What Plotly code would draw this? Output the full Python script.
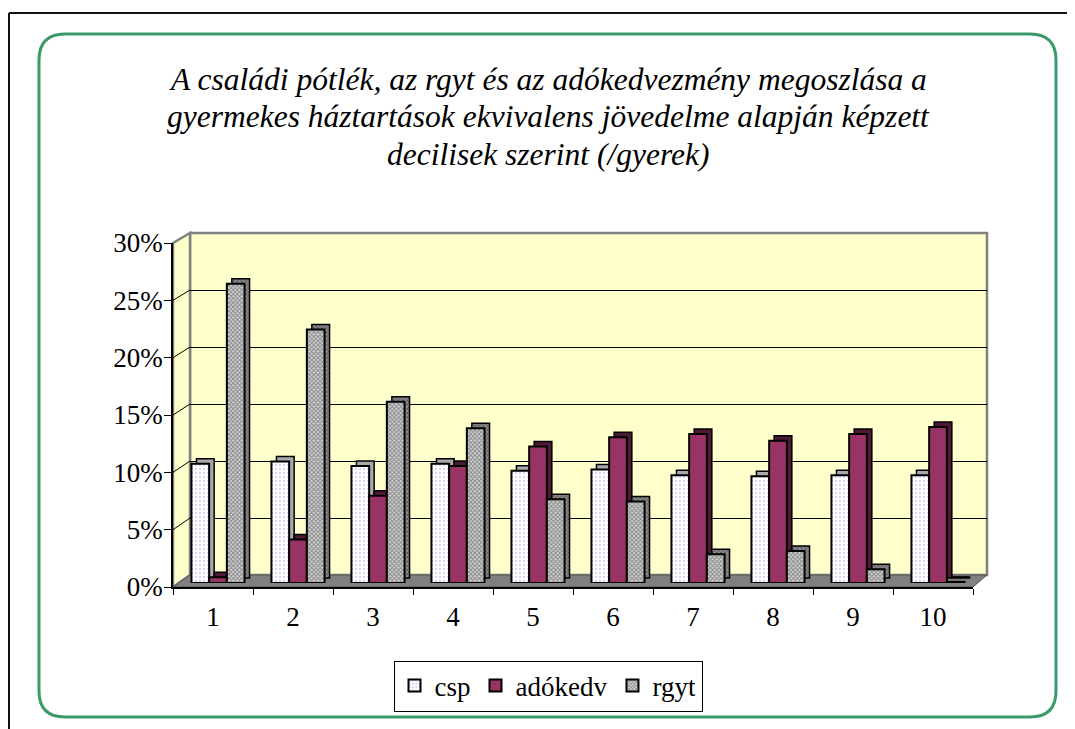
import plotly.graph_objects as go

# ---------------- data ----------------
categories = ["1", "2", "3", "4", "5", "6", "7", "8", "9", "10"]
csp = [10.4, 10.6, 10.2, 10.4, 9.8, 9.9, 9.4, 9.3, 9.4, 9.4]
adokedv = [0.5, 3.8, 7.6, 10.2, 11.9, 12.7, 13.0, 12.4, 13.0, 13.6]
rgyt = [26.1, 22.1, 15.8, 13.5, 7.3, 7.1, 2.5, 2.8, 1.2, 0.1]
series_names = ["csp", "adókedv", "rgyt"]
y_tick_values = [0, 5, 10, 15, 20, 25, 30]
y_tick_labels = ["0%", "5%", "10%", "15%", "20%", "25%", "30%"]
title_lines = [
    "A családi pótlék, az rgyt és az adókedvezmény megoszlása a",
    "gyermekes háztartások ekvivalens jövedelme alapján képzett",
    "decilisek szerint (/gyerek)",
]

# ---------------- geometry helpers ----------------
# the page body has an 8px margin, so the figure starts at (8, 8) on screen
OX, OY = 8, 8
W, H = 1067, 721


def px(x):
    return (x - OX) / W


def py(y):
    return 1 - (y - OY) / H


FONT = "Liberation Serif"
YELLOW = "#FFFFCC"
GRAY = "#808080"
MAROON = "#993366"

# front axes box (screen px)
FX0, FX1, FY0, FY1 = 173, 973, 587, 243
# back wall box
BX0, BX1, BY0, BY1 = 190, 987, 575, 233
# bars box
CX0, CX1, CY0, CY1 = 178, 978, 583, 239

y_max = y_tick_values[-1]
n = len(categories)
unit_px = (CX1 - CX0) / n
ypx_per_unit = (CY0 - CY1) / y_max
BW = 17.7 / unit_px
DX = 5 / unit_px
DY = 5 / ypx_per_unit

bar_x = [i + 1 for i in range(n)]
values = [csp, adokedv, rgyt]
offsets = [-1.5 * BW, -0.5 * BW, 0.5 * BW]

front_markers = [
    dict(color="white", line=dict(color="black", width=2),
         pattern=dict(shape=".", fgcolor="#A8A8F0", bgcolor="white", size=4, solidity=0.25)),
    dict(color=MAROON, line=dict(color="black", width=2)),
    dict(color="white", line=dict(color="black", width=2),
         pattern=dict(shape="x", fgcolor="#303030", bgcolor="#D4D4D4", size=3, solidity=0.5)),
]
depth_markers = [
    dict(color="#A9A9A9", line=dict(color="black", width=1.5)),
    dict(color="#4D1933", line=dict(color="black", width=1.5)),
    dict(color="#707070", line=dict(color="black", width=1.5),
         pattern=dict(shape="x", fgcolor="#202020", bgcolor="#8C8C8C", size=3, solidity=0.45)),
]

fig = go.Figure()

# helper traces so the front axes and the back wall exist
fig.add_trace(go.Scatter(x=categories, y=csp, mode="markers", marker=dict(opacity=0),
                         showlegend=False, hoverinfo="skip", xaxis="x", yaxis="y"))
fig.add_trace(go.Scatter(x=bar_x, y=csp, mode="markers", marker=dict(opacity=0),
                         showlegend=False, hoverinfo="skip", xaxis="x2", yaxis="y2"))

# depth (side/top) faces
for vals, off, mk in zip(values, offsets, depth_markers):
    fig.add_trace(go.Bar(x=bar_x, y=vals, base=[DY] * n, width=BW, offset=off + DX,
                         marker=mk, showlegend=False, hoverinfo="skip",
                         xaxis="x3", yaxis="y3"))
# front faces
for name, vals, off, mk in zip(series_names, values, offsets, front_markers):
    fig.add_trace(go.Bar(x=bar_x, y=vals, width=BW, offset=off, name=name,
                         marker=mk, xaxis="x3", yaxis="y3"))

# ---------------- decorative shapes ----------------
shapes = []


def P(x, y):
    return f"{px(x):.5f},{py(y):.5f}"


# outer frame (top and left edges)
shapes.append(dict(type="line", xref="paper", yref="paper", x0=px(9), y0=py(13), x1=1.0, y1=py(13),
                   line=dict(color="#111111", width=2), layer="below"))
shapes.append(dict(type="line", xref="paper", yref="paper", x0=px(9), y0=py(13), x1=px(9), y1=0.0,
                   line=dict(color="#111111", width=2), layer="below"))
# green rounded border
gx0, gx1, gy0, gy1, r = 39, 1056, 34, 717, 26
path = (f"M {P(gx0 + r, gy0)} L {P(gx1 - r, gy0)} Q {P(gx1, gy0)} {P(gx1, gy0 + r)} "
        f"L {P(gx1, gy1 - r)} Q {P(gx1, gy1)} {P(gx1 - r, gy1)} "
        f"L {P(gx0 + r, gy1)} Q {P(gx0, gy1)} {P(gx0, gy1 - r)} "
        f"L {P(gx0, gy0 + r)} Q {P(gx0, gy0)} {P(gx0 + r, gy0)} Z")
shapes.append(dict(type="path", xref="paper", yref="paper", path=path,
                   line=dict(color="#3A9A6A", width=3), fillcolor="rgba(0,0,0,0)", layer="below"))
# back wall
shapes.append(dict(type="rect", xref="paper", yref="paper", x0=px(BX0), x1=px(BX1), y0=py(BY0), y1=py(BY1),
                   fillcolor=YELLOW, line=dict(color=GRAY, width=2.5), layer="below"))
# side wall
side = f"M {P(FX0, FY1)} L {P(BX0, BY1)} L {P(BX0, BY0)} L {P(FX0, FY0)} Z"
shapes.append(dict(type="path", xref="paper", yref="paper", path=side,
                   fillcolor=YELLOW, line=dict(color=GRAY, width=2.5), layer="below"))
# floor
floor = f"M {P(FX0, FY0)} L {P(BX0, BY0)} L {P(BX1, BY0)} L {P(FX1, FY0)} Z"
shapes.append(dict(type="path", xref="paper", yref="paper", path=floor,
                   fillcolor=GRAY, line=dict(color="#555555", width=1), layer="below"))
# side-wall grid connectors
for v in y_tick_values[1:-1]:
    yf = FY0 - (FY0 - FY1) * v / y_max
    yb = BY0 - (BY0 - BY1) * v / y_max
    shapes.append(dict(type="line", xref="paper", yref="paper", x0=px(FX0), y0=py(yf), x1=px(BX0), y1=py(yb),
                       line=dict(color="black", width=1), layer="below"))

# title: one annotation per line for exact line spacing
title_centers = [80, 117, 154]
annotations = [
    dict(text=line, xref="paper", yref="paper", x=px(548), y=py(yc),
         xanchor="center", yanchor="middle", showarrow=False,
         font=dict(family=FONT, size=31.5, color="black", style="italic"))
    for line, yc in zip(title_lines, title_centers)
]

tickfont = dict(family=FONT, size=27, color="black")

fig.update_layout(
    width=W, height=H,
    margin=dict(l=0, r=0, t=0, b=0, pad=0, autoexpand=False),
    paper_bgcolor="white",
    plot_bgcolor="rgba(0,0,0,0)",
    barmode="overlay",
    shapes=shapes,
    annotations=annotations,
    showlegend=True,
    legend=dict(orientation="h", x=px(548), y=py(686), xanchor="center", yanchor="middle",
                bgcolor="white", bordercolor="black", borderwidth=1,
                font=dict(family=FONT, size=27, color="black"),
                itemsizing="constant", traceorder="normal"),
    xaxis=dict(domain=[px(FX0), px(FX1)], anchor="y", type="category",
               categoryorder="array", categoryarray=categories, range=[-0.5, n - 0.5],
               tickson="boundaries", ticks="outside", ticklen=6, tickcolor="black", tickwidth=1,
               showline=True, linecolor="black", linewidth=1.5, showgrid=False, zeroline=False,
               tickfont=tickfont, ticklabelstandoff=5, fixedrange=True, automargin=False),
    yaxis=dict(domain=[py(FY0), py(FY1)], anchor="x", range=[0, y_max],
               tickmode="array", tickvals=y_tick_values, ticktext=y_tick_labels,
               ticks="outside", ticklen=7, tickcolor="black", tickwidth=1,
               showline=True, linecolor="black", linewidth=1.5, showgrid=False, zeroline=False,
               tickfont=tickfont, ticklabelstandoff=-4, fixedrange=True, automargin=False),
    xaxis2=dict(domain=[px(BX0), px(BX1)], anchor="y2", range=[0.5, n + 0.5], visible=False,
                automargin=False),
    yaxis2=dict(domain=[py(BY0), py(BY1)], anchor="x2", range=[0, y_max],
                tickmode="array", tickvals=y_tick_values[1:-1], showgrid=True,
                gridcolor="black", gridwidth=1, showticklabels=False, ticks="",
                showline=False, zeroline=False, automargin=False),
    xaxis3=dict(domain=[px(CX0), px(CX1)], anchor="y3", range=[0.5, n + 0.5], visible=False,
                automargin=False),
    yaxis3=dict(domain=[py(CY0), py(CY1)], anchor="x3", range=[0, y_max], visible=False,
                automargin=False),
)

fig.write_html("out.html")
